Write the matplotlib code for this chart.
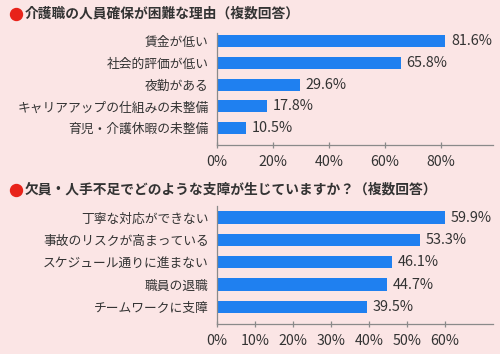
import matplotlib
matplotlib.use("Agg")
import matplotlib.pyplot as plt
from matplotlib.lines import Line2D

plt.rcParams['font.family'] = ['Noto Sans CJK JP', 'DejaVu Sans']

title1 = "介護職の人員確保が困難な理由（複数回答）"
labels1 = ["賃金が低い", "社会的評価が低い", "夜勤がある",
           "キャリアアップの仕組みの未整備", "育児・介護休暇の未整備"]
values1 = [81.6, 65.8, 29.6, 17.8, 10.5]
ticks1 = [0, 20, 40, 60, 80]

title2 = "欠員・人手不足でどのような支障が生じていますか？（複数回答）"
labels2 = ["丁寧な対応ができない", "事故のリスクが高まっている",
           "スケジュール通りに進まない", "職員の退職", "チームワークに支障"]
values2 = [59.9, 53.3, 46.1, 44.7, 39.5]
ticks2 = [0, 10, 20, 30, 40, 50, 60]

BG = "#fbe5e5"
BAR = "#1f80f0"
TXT = "#333333"
AXC = "#8a8a8a"

W, H = 500, 354
fig = plt.figure(figsize=(5, 3.54), dpi=100)
fig.patch.set_facecolor(BG)


def px_axes(x0, y0, x1, y1):
    # pixel box (top-left origin) -> figure fraction
    return fig.add_axes([x0 / W, 1 - y1 / H, (x1 - x0) / W, (y1 - y0) / H])


def draw(ax, labels, values, ticks, xmax, ylim):
    ax.set_facecolor("none")
    ypos = list(range(len(values)))
    ax.barh(ypos, values, height=0.55, color=BAR)
    for y, v in zip(ypos, values):
        ax.text(v + xmax * 0.02, y, f"{v:.1f}%", va="center", ha="left",
                fontsize=10.4, color=TXT)
    ax.set_xlim(0, xmax)
    ax.set_ylim(*ylim)
    ax.set_yticks(ypos, labels)
    ax.set_xticks(ticks, [f"{t}%" for t in ticks])
    for s in ("top", "right"):
        ax.spines[s].set_visible(False)
    for s in ("left", "bottom"):
        ax.spines[s].set_color(AXC)
        ax.spines[s].set_linewidth(0.9)
    ax.tick_params(axis="y", length=0, pad=6, labelsize=9.2, labelcolor=TXT)
    ax.tick_params(axis="x", direction="inout", length=5, width=0.9,
                   color=AXC, pad=5, labelsize=10.2, labelcolor=TXT)


ax1 = px_axes(217, 33, 493, 145)
draw(ax1, labels1, values1, ticks1, 98.6, (4.78, -0.37))

ax2 = px_axes(217, 206, 493, 323.7)
draw(ax2, labels2, values2, ticks2, 72.6, (4.75, -0.52))

for ty, t in ((14, title1), (190, title2)):
    fig.add_artist(Line2D([16 / W], [1 - ty / H], marker="o", markersize=8.6,
                          color="#e8231a", transform=fig.transFigure))
    fig.text(25 / W, 1 - ty / H, t, color=TXT, fontsize=9.9,
             fontweight="bold", va="center", ha="left")

fig.savefig("out.png", dpi=100, facecolor=BG)
